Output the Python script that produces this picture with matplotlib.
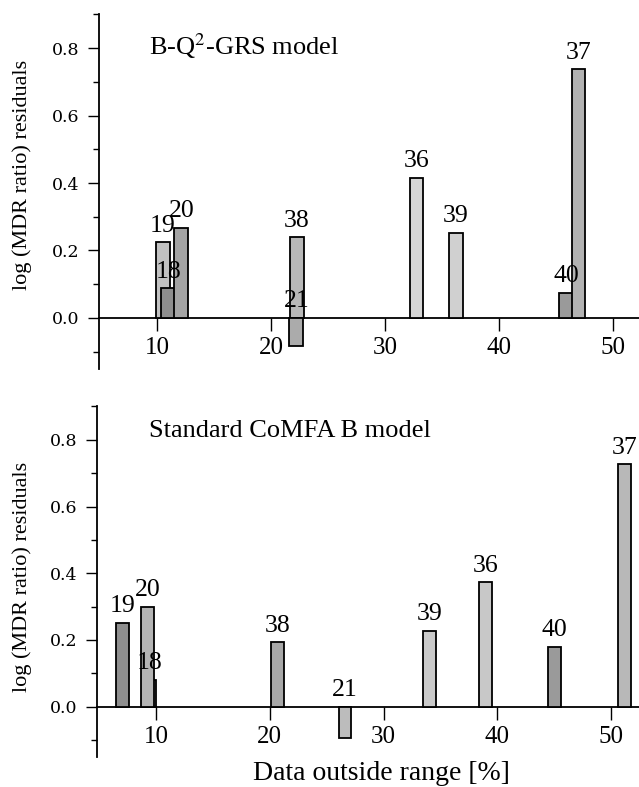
import matplotlib
matplotlib.use("Agg")
import matplotlib.pyplot as plt
from matplotlib.ticker import MultipleLocator, FixedLocator

plt.rcParams['font.family'] = ['Liberation Serif', 'DejaVu Serif']
plt.rcParams['mathtext.fontset'] = 'stix'

# ---- data ----
top_labels = ["19", "18", "20", "38", "21", "36", "39", "40", "37"]
top_x = [10.47, 10.95, 12.1, 22.25, 22.2, 32.75, 36.2, 45.9, 47.0]
top_y = [0.224, 0.088, 0.268, 0.239, -0.083, 0.416, 0.253, 0.075, 0.737]

bot_labels = ["19", "18", "20", "38", "21", "39", "36", "40", "37"]
bot_x = [7.05, 9.45, 9.27, 20.65, 26.6, 34.07, 38.95, 45.05, 51.16]
bot_y = [0.252, 0.08, 0.30, 0.193, -0.095, 0.227, 0.373, 0.18, 0.727]

x_ticks = [10, 20, 30, 40, 50]
y_ticks = [0.0, 0.2, 0.4, 0.6, 0.8]

top_title = "B-Q$^{2}$-GRS model"
bot_title = "Standard CoMFA B model"
ylabel = "log (MDR ratio) residuals"
xlabel = "Data outside range [%]"

# ---- styles ----
top_colors = ["#c2c2c2", "#8e8e8e", "#a4a4a4", "#b8b8b8", "#ababab",
              "#d6d6d6", "#d0d0d0", "#9a9a9a", "#b2b2b2"]
bot_colors = ["#8e8e8e", "#9a9a9a", "#b4b4b4", "#a8a8a8", "#bcbcbc",
              "#cacaca", "#c8c8c8", "#9a9a9a", "#b8b8b8"]

W, H = 639, 787
fig = plt.figure(figsize=(W / 100, H / 100), dpi=100)

def px_axes(left, right, top, bottom):
    return fig.add_axes([left / W, 1 - bottom / H, (right - left) / W, (bottom - top) / H])

ax1 = px_axes(99.3, 639, 14.3, 368.6)
ax2 = px_axes(96.7, 639, 406.5, 756.7)

def style(ax, xlim):
    ax.set_xlim(*xlim)
    ax.set_ylim(-0.15, 0.9)
    for s in ['top', 'right']:
        ax.spines[s].set_visible(False)
    ax.spines['bottom'].set_position(('data', 0))
    ax.spines['left'].set_linewidth(1.3)
    ax.spines['bottom'].set_linewidth(1.3)
    ax.xaxis.set_major_locator(FixedLocator(x_ticks))
    ax.yaxis.set_major_locator(FixedLocator(y_ticks))
    ax.yaxis.set_minor_locator(MultipleLocator(0.1))
    ax.tick_params(axis='x', direction='out', length=9, width=1, pad=5)
    ax.tick_params(axis='y', which='major', direction='out', length=8, width=1, pad=6)
    ax.tick_params(axis='y', which='minor', direction='out', length=4, width=1)
    ax.set_yticklabels([f"{v:.1f}" for v in y_ticks], family='DejaVu Serif', fontsize=12.5)
    ax.set_xticklabels([str(v) for v in x_ticks], fontsize=18)

def bars(ax, xs, ys, labels, colors, width):
    for x, y, lab, c in zip(xs, ys, labels, colors):
        ax.bar(x, y, width=width, color=c, edgecolor='black', linewidth=1.3, zorder=3)
        ax.annotate(lab, (x, max(y, 0)), xytext=(0, 4), textcoords='offset points',
                    ha='center', va='bottom', fontsize=18.5, zorder=5)

style(ax1, (4.9, 52.3))
style(ax2, (4.78, 52.46))
bars(ax1, top_x, top_y, top_labels, top_colors, 1.2)
bars(ax2, bot_x, bot_y, bot_labels, bot_colors, 1.12)

ax1.text(9.3, 0.78, top_title, ha='left', va='baseline', fontsize=19)
ax2.text(9.38, 0.81, bot_title, ha='left', va='baseline', fontsize=19)

fig.text(22 / W, 1 - 175 / H, ylabel, rotation=90, ha='center', va='center', fontsize=16)
fig.text(22 / W, 1 - 577 / H, ylabel, rotation=90, ha='center', va='center', fontsize=16)
fig.text(381 / W, 1 - 773 / H, xlabel, ha='center', va='center', fontsize=20)

fig.savefig("out.png", dpi=100)
